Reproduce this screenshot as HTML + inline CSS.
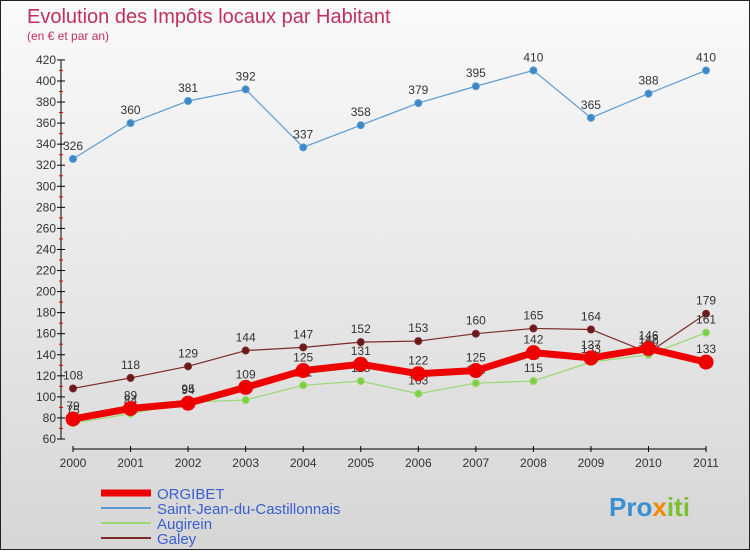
<!DOCTYPE html>
<html><head><meta charset="utf-8"><style>
body{margin:0;width:750px;height:550px;overflow:hidden;font-family:"Liberation Sans",sans-serif}
#c{position:absolute;left:0;top:0;width:748px;height:548px;border:1px solid #222;background:linear-gradient(#fafafa,#d6d6d6)}
</style></head><body>
<div id="c">
<svg id="s" width="748" height="548">
<text x="26" y="22" font-size="20" fill="#c0305a">Evolution des Impôts locaux par Habitant</text>
<text x="26" y="39" font-size="12" fill="#c0305a">(en € et par an)</text>
<g id="ax"></g><g id="ln"></g>
<text x="608" y="515" font-size="26" font-weight="bold" fill="#3a8fd0">Pro<tspan fill="#f08a00">x</tspan><tspan fill="#7ac030">iti</tspan></text>
</svg></div>
<script>
const years=[2000,2001,2002,2003,2004,2005,2006,2007,2008,2009,2010,2011];
const yTicks=[60,80,100,120,140,160,180,200,220,240,260,280,300,320,340,360,380,400,420];
const saint=[326,360,381,392,337,358,379,395,410,365,388,410];
const galey=[108,118,129,144,147,152,153,160,165,164,142,179];
const orgibet=[79,89,94,109,125,131,122,125,142,137,146,133];
const augirein=[75,84,95,97,111,115,103,113,115,133,140,161];
const NS="http://www.w3.org/2000/svg";
const X=i=>72+i*57.55, Y=v=>438-(v-60)*1.053;
function mk(p,t,a){const e=document.createElementNS(NS,t);for(const k in a)e.setAttribute(k,a[k]);p.appendChild(e);return e;}
const ax=document.getElementById('ax'),ln=document.getElementById('ln');
let e=mk(ax,'line',{x1:60,y1:Y(420),x2:60,y2:Y(60),stroke:'#000'});


e=mk(ax,'line',{x1:X(0),y1:448,x2:X(11),y2:448,stroke:'#000'});


yTicks.forEach(v=>{mk(ax,'line',{x1:56,y1:Y(v),x2:64,y2:Y(v),stroke:'#000'});
mk(ax,'line',{x1:58,y1:Y(v+10),x2:62,y2:Y(v+10),stroke:v<420?'#d00':'none'});
const t=mk(ax,'text',{x:55,y:Y(v)+4,'font-size':12,'text-anchor':'end',fill:'#333'});t.textContent=v;

});
years.forEach((y,i)=>{mk(ax,'line',{x1:X(i),y1:445,x2:X(i),y2:451,stroke:'#000'});
const t=mk(ax,'text',{x:X(i),y:466,'font-size':12,'text-anchor':'middle',fill:'#333'});t.textContent=y;

});
function series(d,col,w,r,fill,name){
const g=mk(ln,'g',{});


mk(g,'polyline',{points:d.map((v,i)=>X(i)+','+Y(v)).join(' '),fill:'none',stroke:col,'stroke-width':w,'stroke-linejoin':'round'});
d.forEach((v,i)=>{const c=mk(g,'circle',{cx:X(i),cy:Y(v),r:r,fill:fill,stroke:col,'stroke-width':1});


const t=mk(g,'text',{x:X(i),y:Y(v)-9,'font-size':12,'text-anchor':'middle',fill:'#333'});t.textContent=v;

});}
series(saint,'#5a9ad0',1.2,3.5,'#3c88c8','saint-jean-series');
series(galey,'#7a2a2a',1.2,3.5,'#6a1a1a','galey-series');
series(augirein,'#9ad870',1.2,3.5,'#7cd040','augirein-series');
series(orgibet,'#ee0000',7,7,'#ee0000','orgibet-series');
const leg=[['ORGIBET','#ee0000',7],['Saint-Jean-du-Castillonnais','#5a9ad0',2],['Augirein','#9ad870',2],['Galey','#7a2a2a',2]];
leg.forEach((l,i)=>{const y=492+i*15;const g=mk(ln,'g',{});


mk(g,'line',{x1:100,y1:y,x2:150,y2:y,stroke:l[1],'stroke-width':l[2]});
const t=mk(g,'text',{x:156,y:y+6,'font-size':15,fill:'#3a5fcf'});t.textContent=l[0];});
</script></body></html>
